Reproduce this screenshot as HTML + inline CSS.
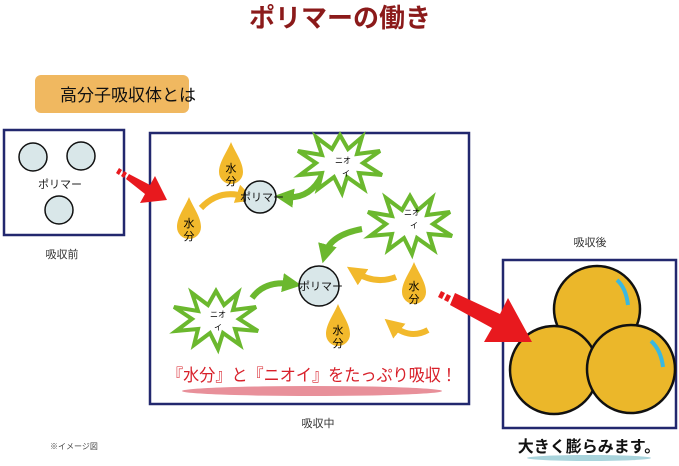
<!DOCTYPE html>
<html><head><meta charset="utf-8"><style>
body{margin:0;background:#fff}
svg{display:block}
text{font-family:"Liberation Sans","Noto Sans CJK JP",sans-serif}
</style></head><body>
<svg width="679" height="466" viewBox="0 0 679 466" xmlns="http://www.w3.org/2000/svg">
<defs>
<g id="drop"><path d="M0,-28 C4,-18 12,-8 12,2 A12,12 0 0 1 -12,2 C-12,-8 -4,-18 0,-28Z" fill="#f2b92c"/></g>
<g id="star"><polygon points="0,-26 8,-12 22,-24 17,-7 40,-10 23,2 42,14 19,12 24,28 7,16 2,32 -6,16 -22,28 -18,12 -40,14 -24,2 -42,-10 -18,-6 -24,-24 -8,-12" fill="#fff" stroke="#6bb82e" stroke-width="4" stroke-linejoin="miter"/></g>
<marker id="ay" viewBox="0 0 10 10" refX="5" refY="5" markerWidth="3.2" markerHeight="3.2" orient="auto"><path d="M0,0L10,5L0,10Z" fill="#f2b92c"/></marker>
<marker id="ag" viewBox="0 0 10 10" refX="5" refY="5" markerWidth="3.2" markerHeight="3.2" orient="auto"><path d="M0,0L10,5L0,10Z" fill="#6bb82e"/></marker>
</defs>

<text x="340" y="27" text-anchor="middle" font-size="26" font-weight="bold" fill="#8b1a1a">ポリマーの働き</text>

<rect x="35" y="75" width="154" height="38" rx="6" fill="#f0b860"/>
<text x="60" y="101" font-size="17" fill="#111">高分子吸収体とは</text>

<rect x="4" y="130" width="120" height="105" fill="#fff" stroke="#22286e" stroke-width="2.5"/>
<circle cx="33" cy="157" r="14" fill="#d9e7e9" stroke="#111" stroke-width="1.5"/>
<circle cx="81" cy="156" r="14" fill="#d9e7e9" stroke="#111" stroke-width="1.5"/>
<circle cx="59" cy="210" r="14" fill="#d9e7e9" stroke="#111" stroke-width="1.5"/>
<text x="60" y="188" text-anchor="middle" font-size="11" fill="#222">ポリマー</text>
<text x="62" y="258" text-anchor="middle" font-size="11" fill="#333">吸収前</text>

<rect x="150" y="133" width="319" height="271" fill="#fff" stroke="#22286e" stroke-width="2.5"/>
<text x="318" y="427" text-anchor="middle" font-size="11" fill="#333">吸収中</text>

<path d="M201,208 Q220,188 246,197" fill="none" stroke="#f2b92c" stroke-width="6" marker-end="url(#ay)"/>
<path d="M322,175 Q310,200 284,197" fill="none" stroke="#6bb82e" stroke-width="6" marker-end="url(#ag)"/>
<path d="M362,229 Q330,235 325,254" fill="none" stroke="#6bb82e" stroke-width="6" marker-end="url(#ag)"/>
<path d="M252,298 Q265,280 292,284" fill="none" stroke="#6bb82e" stroke-width="6" marker-end="url(#ag)"/>
<path d="M396,277 Q375,285 355,272" fill="none" stroke="#f2b92c" stroke-width="6" marker-end="url(#ay)"/>
<path d="M428,330 Q410,340 392,325" fill="none" stroke="#f2b92c" stroke-width="6" marker-end="url(#ay)"/>

<circle cx="260" cy="197" r="16" fill="#d9e7e9" stroke="#111" stroke-width="1.5"/>
<text x="262" y="201" text-anchor="middle" font-size="11" fill="#111">ポリマー</text>
<circle cx="319" cy="286" r="20" fill="#d9e7e9" stroke="#111" stroke-width="1.5"/>
<text x="321" y="290" text-anchor="middle" font-size="11" fill="#111">ポリマー</text>

<use href="#star" x="340" y="161"/>
<text x="343" y="163" font-size="8" text-anchor="middle">ニオ</text><text x="346" y="176" font-size="8" text-anchor="middle">イ</text>
<use href="#star" x="410" y="222"/>
<text x="412" y="215" font-size="8" text-anchor="middle">ニオ</text><text x="414" y="228" font-size="8" text-anchor="middle">イ</text>
<use href="#star" x="216" y="317"/>
<text x="218" y="317" font-size="8" text-anchor="middle">ニオ</text><text x="218" y="330" font-size="8" text-anchor="middle">イ</text>

<use href="#drop" x="231" y="170"/>
<text x="231" y="172" font-size="11" text-anchor="middle">水</text><text x="231" y="185" font-size="11" text-anchor="middle">分</text>
<use href="#drop" x="189" y="225"/>
<text x="189" y="227" font-size="11" text-anchor="middle">水</text><text x="189" y="240" font-size="11" text-anchor="middle">分</text>
<use href="#drop" x="414" y="290"/>
<text x="414" y="290" font-size="11" text-anchor="middle">水</text><text x="414" y="303" font-size="11" text-anchor="middle">分</text>
<use href="#drop" x="338" y="332"/>
<text x="338" y="334" font-size="11" text-anchor="middle">水</text><text x="338" y="347" font-size="11" text-anchor="middle">分</text>

<ellipse cx="312" cy="391" rx="130" ry="5" fill="#e8909a"/>
<text x="312" y="381" text-anchor="middle" font-size="17" fill="#d8202a" textLength="290" lengthAdjust="spacingAndGlyphs">『水分』と『ニオイ』をたっぷり吸収！</text>

<text x="590" y="246" text-anchor="middle" font-size="11" fill="#333">吸収後</text>
<rect x="503" y="260" width="173" height="168" fill="#fff" stroke="#22286e" stroke-width="2.5"/>
<g fill="#ebb72a" stroke="#111" stroke-width="2.5">
<circle cx="597" cy="309" r="43"/>
<circle cx="554" cy="370" r="44"/>
<circle cx="631" cy="369" r="44"/>
</g>
<path d="M617,280 Q626,288 628,305" fill="none" stroke="#3ab8e0" stroke-width="4"/>
<path d="M651,341 Q661,350 663,367" fill="none" stroke="#3ab8e0" stroke-width="4"/>
<ellipse cx="589" cy="458" rx="62" ry="3" fill="#a9d4dc"/>
<text x="589" y="452" text-anchor="middle" font-size="16" font-weight="bold" fill="#111">大きく膨らみます。</text>

<g fill="#e8191e">
<polygon points="116,173 119,168 122,170 119,175"/>
<polygon points="121,176 124,171 127,173 124,178"/>
<polygon points="126,179 129,174 150,185 155,176 167,200 140,203 145,194"/>
<polygon points="438,297 441,291 445,293 442,299"/>
<polygon points="444,300 447,294 451,296 448,302"/>
<polygon points="450,305 455,293 500,314 508,298 532,342 484,342 492,328"/>
</g>

<text x="50" y="449" font-size="8" fill="#444">※イメージ図</text>
</svg>
</body></html>
